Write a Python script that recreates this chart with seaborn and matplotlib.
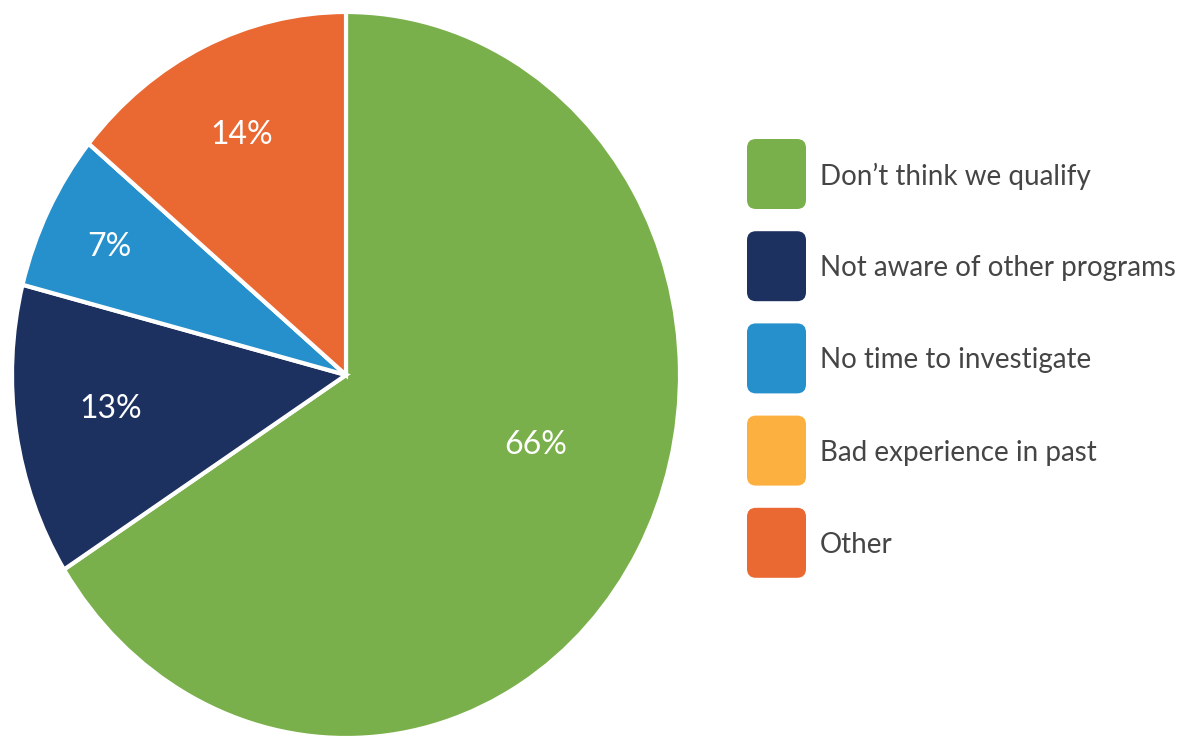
import numpy as np
import matplotlib
matplotlib.use('Agg')
import matplotlib.pyplot as plt
import seaborn as sns
from matplotlib.patches import FancyBboxPatch

# data
categories = ["Don\u2019t think we qualify", "Not aware of other programs",
              "No time to investigate", "Bad experience in past", "Other"]
shares = [66, 13, 7, 0, 14]
colors = ["#7AB04B", "#1D3160", "#2590CB", "#FBB040", "#EA6832"]

# label placement tweaks (radial distance, angle shift in degrees)
label_dist = [0.60, 0.71, 0.79, 0.7, 0.73]
label_shift = [10, -1.5, 0.5, 0, 0]

sns.set_theme(style='white')
plt.rcParams['font.family'] = ['Lato', 'DejaVu Sans']

fig = plt.figure(figsize=(11.84, 7.39), dpi=100)
W, H = 1184, 739

# pie, slightly stretched vertically like the original
cx, cy, rx, ry = 346, 375, 334, 363
ax = fig.add_axes([(cx - rx) / W, (H - cy - ry) / H, 2 * rx / W, 2 * ry / H])
wedges, _ = ax.pie(shares, colors=colors, startangle=90, counterclock=False,
                   radius=1.0, wedgeprops=dict(edgecolor='white', linewidth=3))
ax.set_aspect('auto')
ax.set_xlim(-1, 1)
ax.set_ylim(-1, 1)
ax.axis('off')

for w, val, d, s in zip(wedges, shares, label_dist, label_shift):
    if val == 0:
        continue
    mid = np.deg2rad((w.theta1 + w.theta2) / 2 + s)
    ax.text(d * np.cos(mid), d * np.sin(mid), f'{val}%', color='white',
            fontsize=23, ha='center', va='center')

# legend with rounded swatches
lax = fig.add_axes([0, 0, 1, 1])
lax.set_xlim(0, W)
lax.set_ylim(H, 0)
lax.axis('off')
y0, step = 174, 92.2
for i, (cat, col) in enumerate(zip(categories, colors)):
    yc = y0 + i * step
    lax.add_patch(FancyBboxPatch((755, yc - 27), 43, 54,
                                 boxstyle='round,pad=8,rounding_size=9',
                                 facecolor=col, edgecolor='none'))
    lax.text(820, yc + 2, cat, fontsize=20, color='#454545', va='center', ha='left')

fig.savefig('out.png', dpi=100, facecolor='white')
